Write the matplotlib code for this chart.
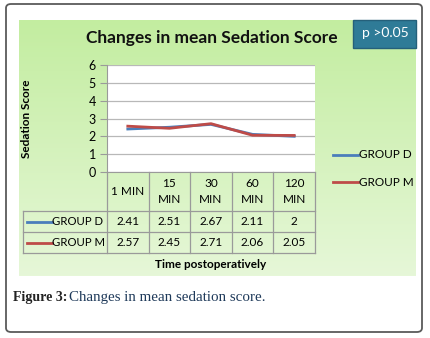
import numpy as np
import matplotlib
matplotlib.use("Agg")
import matplotlib.pyplot as plt
from matplotlib.patches import FancyBboxPatch, Rectangle
from matplotlib.lines import Line2D

# ---------------------------------------------------------------------------
# Data
# ---------------------------------------------------------------------------
time_labels = ["1 MIN", "15\nMIN", "30\nMIN", "60\nMIN", "120\nMIN"]
group_d = [2.41, 2.51, 2.67, 2.11, 2]
group_m = [2.57, 2.45, 2.71, 2.06, 2.05]
series_names = ["GROUP D", "GROUP M"]
series_colors = ["#4a7ebb", "#be4b48"]
y_ticks = [0, 1, 2, 3, 4, 5, 6]

W, H = 430, 338
FONT = "Lato"


def px(x, y):
    """pixel coords (origin top-left) -> figure fraction"""
    return x / W, 1 - y / H


fig = plt.figure(figsize=(W / 100, H / 100), dpi=100)
fig.patch.set_facecolor("white")

# outer rounded frame
frame = FancyBboxPatch(px(6, 332), (422 - 6) / W, (332 - 4) / H,
                       boxstyle="round,pad=0,rounding_size=0.012",
                       transform=fig.transFigure, fill=False,
                       edgecolor="#5a5a5a", linewidth=1.3)
fig.patches.append(frame)

# green gradient panel
gx0, gy0 = px(19, 276)
bg = fig.add_axes([gx0, gy0, (416 - 19) / W, (276 - 20) / H])
grad = np.linspace(0, 1, 256).reshape(-1, 1)
cmap = matplotlib.colors.LinearSegmentedColormap.from_list("g", ["#c3eda0", "#e6f7d8"])
bg.imshow(grad, aspect="auto", cmap=cmap, extent=[0, 1, 0, 1])
bg.axis("off")

# p-value box
pb = Rectangle(px(353, 48), (416 - 353) / W, 28 / H, transform=fig.transFigure,
               facecolor="#2f7b97", edgecolor="#25607a", linewidth=1)
fig.patches.append(pb)
fig.text(*px(385, 33), "p >0.05", color="white", fontsize=10, family=FONT,
         ha="center", va="center")

# title
fig.text(*px(212, 38), "Changes in mean Sedation Score", fontsize=12.5,
         fontweight="bold", family=FONT, ha="center", va="center", color="#111111")

# plot area
ax_l, ax_r, ax_t, ax_b = 107, 315, 65, 172
ax = fig.add_axes([ax_l / W, 1 - ax_b / H, (ax_r - ax_l) / W, (ax_b - ax_t) / H])
ax.set_facecolor("white")
x = np.arange(len(time_labels))
for vals, name, col in zip([group_d, group_m], series_names, series_colors):
    ax.plot(x, vals, color=col, linewidth=2, label=name)
ax.set_xlim(-0.5, len(time_labels) - 0.5)
ax.set_ylim(0, 6)
ax.set_yticks(y_ticks)
ax.set_yticklabels([str(t) for t in y_ticks], fontsize=9, family=FONT)
ax.yaxis.grid(True, color="#b8b8b8", linewidth=0.9)
ax.set_axisbelow(True)
ax.set_xticks([])
for s in ["top", "right"]:
    ax.spines[s].set_visible(False)
ax.spines["left"].set_color("#9a9a9a")
ax.spines["bottom"].set_color("#9a9a9a")
ax.tick_params(axis="y", length=5, color="#9a9a9a", pad=3)
ax.set_ylabel("Sedation Score", fontsize=8.5, fontweight="bold", family=FONT)
ax.yaxis.set_label_coords(-0.36, 0.5)

# data table under the axes
col_w = (ax_r - ax_l) / len(time_labels)
row_lbl_x0 = 23
hdr_b, r1_b, r2_b = 211, 232, 253
line_kw = dict(color="#9a9a9a", linewidth=0.9, transform=fig.transFigure)
# horizontal lines
for yy in [hdr_b, r1_b, r2_b]:
    (a, b), (c, d) = px(row_lbl_x0, yy), px(ax_r, yy)
    fig.add_artist(Line2D([a, c], [b, d], **line_kw))
# vertical lines
for i in range(len(time_labels) + 1):
    xx = ax_l + i * col_w
    (a, b), (c, d) = px(xx, ax_b), px(xx, r2_b)
    fig.add_artist(Line2D([a, c], [b, d], **line_kw))
(a, b), (c, d) = px(row_lbl_x0, hdr_b), px(row_lbl_x0, r2_b)
fig.add_artist(Line2D([a, c], [b, d], **line_kw))

for i, lab in enumerate(time_labels):
    cx = ax_l + (i + 0.5) * col_w
    fig.text(*px(cx, (ax_b + hdr_b) / 2), lab, fontsize=8.5, family=FONT,
             ha="center", va="center", linespacing=1.45)

for r, (vals, name, col) in enumerate(zip([group_d, group_m], series_names, series_colors)):
    yc = (hdr_b + r1_b) / 2 if r == 0 else (r1_b + r2_b) / 2
    (a, b), (c, d) = px(27, yc), px(52, yc)
    fig.add_artist(Line2D([a, c], [b, d], color=col, linewidth=2,
                          transform=fig.transFigure))
    fig.text(*px(52, yc), name, fontsize=8.2, family=FONT, ha="left", va="center")
    for i, v in enumerate(vals):
        cx = ax_l + (i + 0.5) * col_w
        fig.text(*px(cx, yc), f"{v:g}", fontsize=8.5, family=FONT,
                 ha="center", va="center")

fig.text(*px(211, 265), "Time postoperatively", fontsize=8.5, fontweight="bold",
         family=FONT, ha="center", va="center")

# legend at right
for yy, name, col in [(155, series_names[0], series_colors[0]),
                      (182, series_names[1], series_colors[1])]:
    (a, b), (c, d) = px(333, yy), px(358, yy)
    fig.add_artist(Line2D([a, c], [b, d], color=col, linewidth=2,
                          transform=fig.transFigure))
    fig.text(*px(359, yy), name, fontsize=8.5, family=FONT, ha="left", va="center")

# caption
fig.text(*px(13, 298), "Figure 3:", fontsize=10, fontweight="bold",
         family="Liberation Serif", ha="left", va="center", color="#222222")
fig.text(*px(69, 298), "Changes in mean sedation score.", fontsize=10.8,
         family="Liberation Serif", ha="left", va="center", color="#1f3a5a")

fig.savefig("out.png", dpi=100)
